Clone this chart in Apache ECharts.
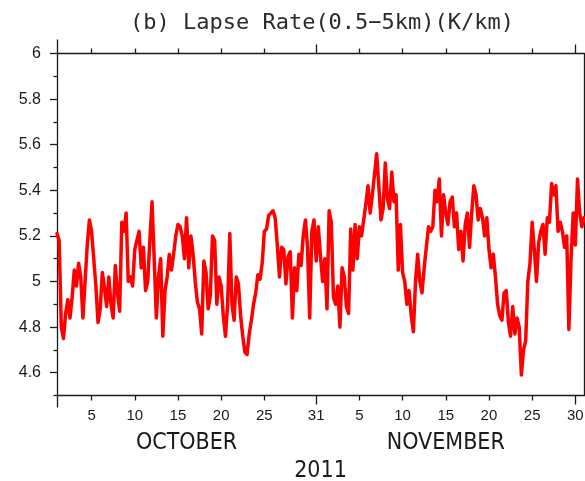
<!DOCTYPE html>
<html>
<head>
<meta charset="utf-8">
<script src="https://cdn.jsdelivr.net/npm/echarts@6/dist/echarts.min.js"></script>
<style>
  html, body { margin: 0; padding: 0; background: #ffffff; }
  #chart { width: 585px; height: 481px; }
</style>
</head>
<body>
<div id="chart"></div>
<script>
// Lower-tropospheric lapse rate (0.5-5 km), 6-hourly, Oct 1 00 UTC onward (K/km)
const titleText = '(b) Lapse Rate(0.5\u22125km)(K/km)';
const stepDays = 0.25;

// October 2011: 124 six-hourly values
const lapseRateOct = [
  5.21, 5.18, 4.80, 4.75, 4.86, 4.92, 4.84, 4.93, 5.05, 4.98,
  5.08, 5.02, 4.84, 5.00, 5.16, 5.27, 5.22, 5.10, 4.98, 4.82,
  4.88, 5.04, 4.97, 4.89, 5.02, 4.90, 4.84, 5.07, 4.95, 4.87,
  5.26, 5.22, 5.30, 5.00, 5.02, 4.98, 5.14, 5.18, 5.22, 5.06,
  5.15, 4.96, 5.00, 5.18, 5.35, 5.10, 4.84, 5.02, 5.10, 4.76,
  4.96, 5.02, 5.12, 5.05, 5.12, 5.20, 5.25,
  5.24, 5.20, 5.10, 5.28, 5.06, 5.20, 5.12, 5.00, 4.91, 4.88,
  4.77, 5.09, 5.04, 4.88, 4.94, 5.20, 5.18, 4.90, 5.02, 4.98,
  4.85, 4.76, 4.90, 5.21, 4.90, 4.83, 5.02, 4.99, 4.85, 4.76,
  4.69, 4.68, 4.77, 4.83, 4.90, 4.95, 5.03, 5.01, 5.08, 5.22,
  5.23, 5.29, 5.30, 5.31, 5.28, 5.16, 5.02, 5.15, 5.14, 4.99,
  5.11, 5.13, 4.84, 5.06, 4.96, 5.12, 5.07, 5.20, 5.27, 5.15,
  4.84, 5.22, 5.27, 5.09, 5.24, 5.11, 5.00
];

// November 2011: 120 six-hourly values, plus Dec 1 00 UTC
const lapseRateNov = [
  5.10, 4.88, 5.31, 5.26, 4.93,
  4.90, 4.98, 4.80, 5.06, 5.02, 4.89, 4.86, 5.23, 5.05, 5.25,
  5.10, 5.24, 5.20, 5.27, 5.34, 5.42, 5.30, 5.38, 5.47, 5.56,
  5.42, 5.27, 5.32, 5.52, 5.36, 5.32, 5.48, 5.35, 5.38, 5.05,
  5.25, 5.04, 5.00, 4.90, 4.96, 4.85, 4.78, 5.00, 5.12, 5.00,
  4.95, 5.06, 5.15, 5.24, 5.22, 5.24, 5.40, 5.35,
  5.45, 5.20, 5.38, 5.30, 5.25, 5.35, 5.37, 5.24, 5.30, 5.14,
  5.22, 5.09, 5.25, 5.30, 5.15, 5.30, 5.42, 5.38, 5.27, 5.32,
  5.28, 5.20, 5.28, 5.14, 5.06, 5.12, 5.02, 4.90, 4.85, 4.83,
  4.95, 4.96, 4.82, 4.76, 4.89, 4.77, 4.84, 4.80, 4.59, 4.70,
  4.74, 5.00, 5.08, 5.26, 5.14, 5.00, 5.17, 5.22, 5.25, 5.12,
  5.28, 5.26, 5.43, 5.38, 5.42, 5.22, 5.26, 5.22, 5.15, 5.20,
  4.79, 5.10, 5.30, 5.16, 5.45, 5.30,
  5.24, 5.28
];

// Day-of-month tick marks, as days elapsed since Oct 1 00 UTC
const dayTickOffsets = [4, 9, 14, 19, 24, 30, 35, 40, 45, 50, 55, 60];
const dayTickLabels = ['5', '10', '15', '20', '25', '31', '5', '10', '15', '20', '25', '30'];
const minorDayTicks = [4, 9, 14, 19, 24, 35, 40, 45, 50, 55];
const monthEndTicks = [30, 60];
const startTick = [0];
const monthNames = ['OCTOBER', 'NOVEMBER'];
const monthCentres = [15, 45];
const yearLabel = '2011';
const yMajorTicks = [4.6, 4.8, 5.0, 5.2, 5.4, 5.6, 5.8, 6.0];
const yMinorTicks = [4.5, 4.7, 4.9, 5.1, 5.3, 5.5, 5.7, 5.9];

const X_MIN = 0, X_MAX = 61, Y_MIN = 4.5, Y_MAX = 6;
const INK = '#1a1a1a';
const LABEL_FONT = "'Liberation Sans', Arial, Helvetica, sans-serif";
const MONTH_FONT = "'DejaVu Sans Condensed', 'Liberation Sans Narrow', 'Liberation Sans', sans-serif";

const points = lapseRateOct.concat(lapseRateNov).map((v, i) => [i * stepDays, v]);

function xAxisLayer(position, extra) {
  return Object.assign({
    type: 'value', position: position, min: X_MIN, max: X_MAX, offset: 0,
    axisLine: { show: false, onZero: false },
    axisTick: { show: false },
    axisLabel: { show: false },
    splitLine: { show: false }
  }, extra);
}
function yAxisLayer(position, extra) {
  return Object.assign({
    type: 'value', position: position, min: Y_MIN, max: Y_MAX, offset: 0,
    axisLine: { show: false, onZero: false },
    axisTick: { show: false },
    axisLabel: { show: false },
    splitLine: { show: false }
  }, extra);
}
const frameLine = { show: true, onZero: false, lineStyle: { color: INK, width: 1.3 } };
function ticks(values, length) {
  return { show: true, inside: false, customValues: values, length: length,
           lineStyle: { color: INK, width: 1.3 } };
}

const chart = echarts.init(document.getElementById('chart'), null, { renderer: 'canvas' });
chart.setOption({
  animation: false,
  backgroundColor: '#ffffff',
  title: {
    text: titleText,
    left: 317, textAlign: 'center', top: 7,
    textStyle: { fontFamily: "'DejaVu Sans Mono', monospace", fontSize: 22,
                 fontWeight: 'normal', color: '#2a2a2a' }
  },
  grid: { left: 57, top: 53.5, width: 527, height: 342,
          containLabel: false, outerBoundsMode: 'none' },
  xAxis: [
    xAxisLayer('bottom', {
      axisLine: frameLine,
      axisTick: ticks(minorDayTicks, 5),
      axisLabel: {
        show: true, customValues: dayTickOffsets, margin: 13,
        fontFamily: LABEL_FONT, fontSize: 15, color: INK,
        formatter: v => dayTickLabels[dayTickOffsets.indexOf(Math.round(v))] || ''
      }
    }),
    xAxisLayer('bottom', { axisTick: ticks(monthEndTicks, 9) }),
    xAxisLayer('bottom', { axisTick: ticks(startTick, 12) }),
    xAxisLayer('bottom', {
      axisLabel: {
        show: true, customValues: monthCentres, margin: 36,
        fontFamily: MONTH_FONT, fontSize: 23, color: INK,
        formatter: v => monthNames[monthCentres.indexOf(Math.round(v))] || ''
      },
      name: yearLabel, nameLocation: 'middle', nameGap: 63,
      nameTextStyle: { fontFamily: MONTH_FONT, fontSize: 23, color: INK }
    }),
    xAxisLayer('top', { axisLine: frameLine, axisTick: ticks(minorDayTicks, 5) }),
    xAxisLayer('top', { axisTick: ticks(monthEndTicks, 9) }),
    xAxisLayer('top', { axisTick: ticks(startTick, 14) })
  ],
  yAxis: [
    yAxisLayer('left', {
      axisLine: frameLine,
      axisTick: ticks(yMajorTicks, 7),
      axisLabel: {
        show: true, customValues: yMajorTicks, margin: 16,
        fontFamily: LABEL_FONT, fontSize: 16, color: INK,
        formatter: v => String(Number(v.toFixed(1)))
      }
    }),
    yAxisLayer('left', { axisTick: ticks(yMinorTicks, 3.5) }),
    yAxisLayer('right', { axisLine: frameLine })
  ],
  series: [{
    type: 'line',
    name: 'Lapse rate',
    xAxisIndex: 0, yAxisIndex: 0,
    data: points,
    showSymbol: false,
    symbol: 'none',
    lineStyle: { color: '#ff0000', width: 3.5, join: 'round', cap: 'round' },
    z: 1
  }]
});
</script>
</body>
</html>
